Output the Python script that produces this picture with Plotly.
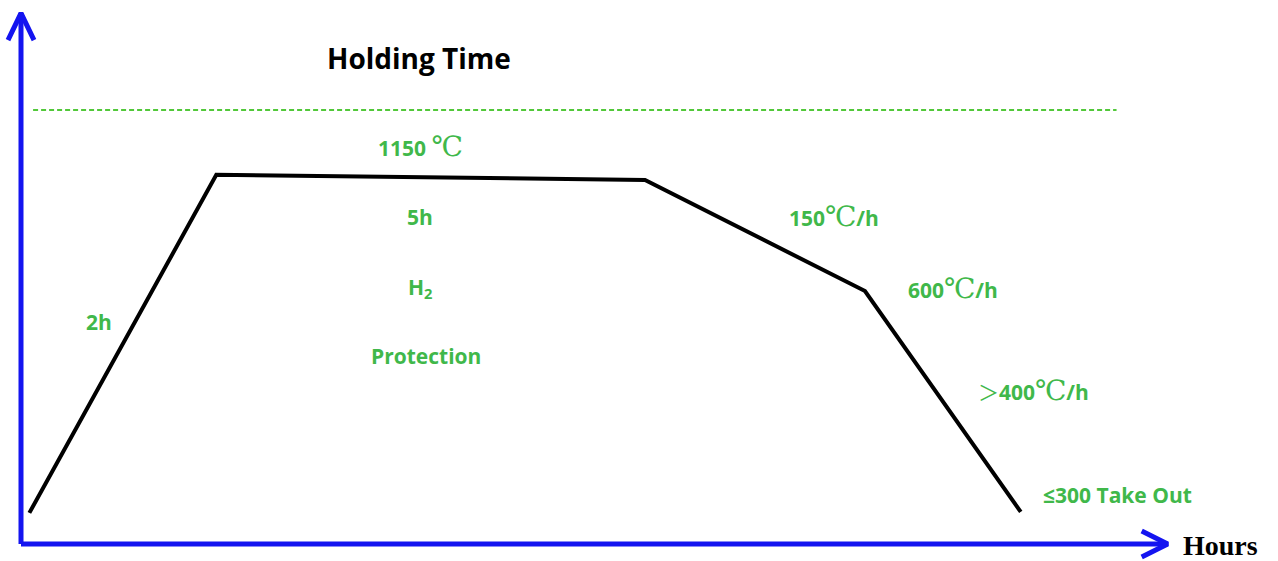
import plotly.graph_objects as go

# ---- data (schematic heat-treatment profile) ----
time_h = [0.09, 2.1, 6.71, 9.075, 10.75]          # hours
temp_c = [97, 1150, 1134, 788, 100]                # °C
hold_line_t = [0.13, 11.78]                        # green dashed reference (hours)
hold_line_temp = 1352                              # °C
axis_x_end = 12.33                                 # hours (arrow tip)
axis_y_end = 1654                                  # °C (arrow tip)

W, H = 1278, 561
# pixel scale helpers (origin of axes at pixel 21, 544)
PX_PER_H = 93.0
PX_PER_C = 0.321
X0, Y0 = 21, 544
x_range = [(0 - X0) / PX_PER_H, (W - X0) / PX_PER_H]
y_range = [(Y0 - H) / PX_PER_C, Y0 / PX_PER_C]

def dxh(px):
    return px / PX_PER_H

def dyc(px):
    return px / PX_PER_C

BLUE = "#1414f0"
GREEN = "#40b84a"
DGREEN = "#52c83a"

fig = go.Figure()

# axes with chevron arrowheads
fig.add_trace(go.Scatter(
    x=[0, 0, None, -dxh(13), 0, dxh(13)],
    y=[0, axis_y_end, None, axis_y_end - dyc(27), axis_y_end, axis_y_end - dyc(27)],
    mode="lines", line=dict(color=BLUE, width=5), hoverinfo="skip", showlegend=False))
fig.add_trace(go.Scatter(
    x=[0, axis_x_end, None, axis_x_end - dxh(26), axis_x_end, axis_x_end - dxh(26)],
    y=[0, 0, None, dyc(13), 0, -dyc(13)],
    mode="lines", line=dict(color=BLUE, width=5), hoverinfo="skip", showlegend=False))

# dashed holding line
fig.add_trace(go.Scatter(
    x=hold_line_t, y=[hold_line_temp, hold_line_temp],
    mode="lines", line=dict(color=DGREEN, width=2, dash="5px,3px"),
    hoverinfo="skip", showlegend=False))

# profile
fig.add_trace(go.Scatter(
    x=time_h, y=temp_c, mode="lines",
    line=dict(color="black", width=4), showlegend=False))

def px(x, y):
    return x / W, 1 - y / H

SANS = "'Open Sans', Lato, sans-serif"
SERIF = "'Liberation Serif', 'Times New Roman', serif"
SYM = "font-family:'DejaVu Serif',serif;font-weight:normal;font-size:28px"
deg = f"<span style=\"{SYM}\">℃</span>"
gt = "<span style=\"font-family:'Noto Sans CJK SC',sans-serif;font-weight:normal\">＞</span>"

labels = [
    ("<b>Holding Time</b>", 419, 58, 28, "black", SANS),
    (f"<b>1150 </b>{deg}", 420, 147, 21, GREEN, SANS),
    ("<b>5h</b>", 420, 217, 21, GREEN, SANS),
    ("<b>H<sub>2</sub></b>", 420, 288, 21, GREEN, SANS),
    ("<b>Protection</b>", 426, 356, 21, GREEN, SANS),
    ("<b>2h</b>", 99, 322, 21, GREEN, SANS),
    (f"<b>150</b>{deg}<b>/h</b>", 834, 216, 21, GREEN, SANS),
    (f"<b>600</b>{deg}<b>/h</b>", 953, 288, 21, GREEN, SANS),
    (f"{gt}<b>400</b>{deg}<b>/h</b>", 1033, 390, 21, GREEN, SANS),
    ("<b>≤300 Take Out</b>", 1117, 495, 21, GREEN, SANS),
    ("<b>Hours</b>", 1220, 545, 28, "black", SERIF),
]
for text, x, y, size, color, fam in labels:
    ax, ay = px(x, y)
    fig.add_annotation(x=ax, y=ay, xref="paper", yref="paper", text=text,
                       showarrow=False, xanchor="center", yanchor="middle",
                       font=dict(size=size, color=color, family=fam))

fig.update_layout(
    width=W, height=H, margin=dict(l=0, r=0, t=0, b=0),
    paper_bgcolor="white", plot_bgcolor="white",
    xaxis=dict(range=x_range, visible=False, fixedrange=True),
    yaxis=dict(range=y_range, visible=False, fixedrange=True),
    showlegend=False,
)

fig.write_html("out.html", config={"displayModeBar": False})

# remove the default page margin so the figure fills the window exactly
with open("out.html", "r", encoding="utf-8") as f:
    html = f.read()
html = html.replace("<body>", "<body style=\"margin:0;overflow:hidden\">", 1)
with open("out.html", "w", encoding="utf-8") as f:
    f.write(html)
